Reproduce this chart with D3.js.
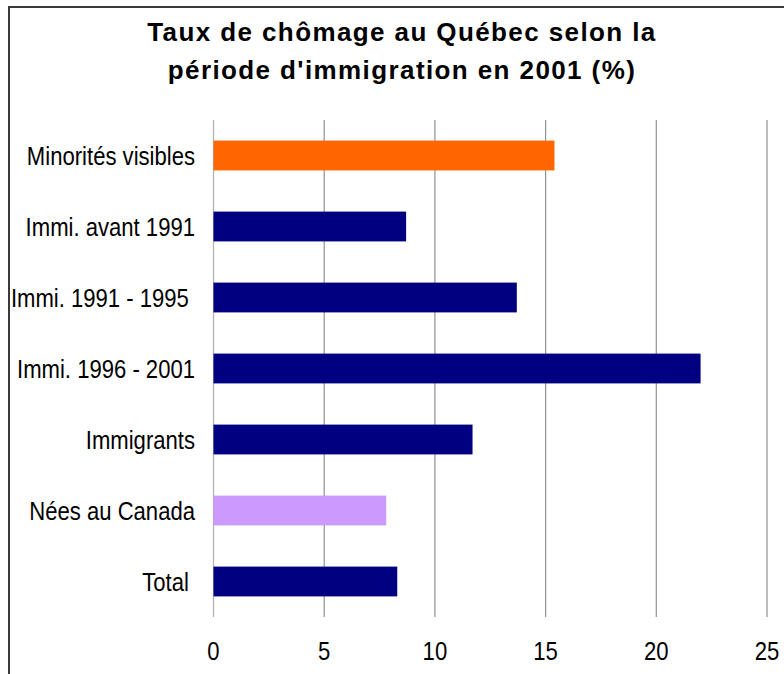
<!DOCTYPE html>
<html><head><meta charset="utf-8">
<script src="https://cdn.jsdelivr.net/npm/d3@7"></script>
<style>
html,body{margin:0;padding:0;background:#fff;}
svg{display:block;}
text{white-space:pre;}
</style></head>
<body>
<script>
const categories = ["Minorités visibles","Immi. avant 1991","Immi. 1991 - 1995 ","Immi. 1996 - 2001","Immigrants","Nées au Canada","Total "];
const values = [15.4, 8.7, 13.7, 22.0, 11.7, 7.8, 8.3];
const colors = ["#FF6600","#000080","#000080","#000080","#000080","#CC99FF","#000080"];
const xTicks = [0,5,10,15,20,25];
const titleLines = ["Taux de chômage au Québec selon la","période d'immigration en 2001 (%)"];

const W=784,H=674;
const svg=d3.select("body").append("svg").attr("width",W).attr("height",H);

svg.append("rect").attr("x",9).attr("y",7).attr("width",W+20).attr("height",H+20)
  .attr("fill","#fff").attr("stroke","#3a3a3a").attr("stroke-width",2);

const x=d3.scaleLinear().domain([0,25]).range([213.5,767]);
const y=d3.scaleBand().domain(categories).range([120,617]).paddingInner(0.58).paddingOuter(0.29);

const font="'Liberation Sans',Arial,sans-serif";

svg.append("g").selectAll("line").data(xTicks).join("line")
  .attr("x1",d=>x(d)).attr("x2",d=>x(d)).attr("y1",120).attr("y2",617)
  .attr("stroke",d=>d===0?"#b0b0b0":"#909090").attr("stroke-width",1.2);

svg.append("g").selectAll("rect").data(categories).join("rect")
  .attr("x",x(0)).attr("y",d=>y(d)).attr("height",y.bandwidth())
  .attr("width",(d,i)=>x(values[i])-x(0)).attr("fill",(d,i)=>colors[i]);

svg.append("g").selectAll("text").data(categories).join("text")
  .attr("transform",d=>`translate(195,${y(d)+y.bandwidth()/2}) scale(0.85,1)`)
  .attr("dy","0.36em")
  .attr("text-anchor","end").attr("font-family",font).attr("font-size",26).attr("fill","#000")
  .text(d=>d);

svg.append("g").selectAll("text").data(xTicks).join("text")
  .attr("transform",d=>`translate(${x(d)},660) scale(0.85,1)`)
  .attr("text-anchor","middle")
  .attr("font-family",font).attr("font-size",26).attr("fill","#000")
  .text(d=>d);

svg.append("g").selectAll("text").data(titleLines).join("text")
  .attr("x",402).attr("y",(d,i)=>41+i*38).attr("text-anchor","middle")
  .attr("font-family",font).attr("font-weight","bold")
  .attr("font-size",26).attr("letter-spacing","1.4px").attr("fill","#000")
  .text(d=>d);
</script>
</body></html>
